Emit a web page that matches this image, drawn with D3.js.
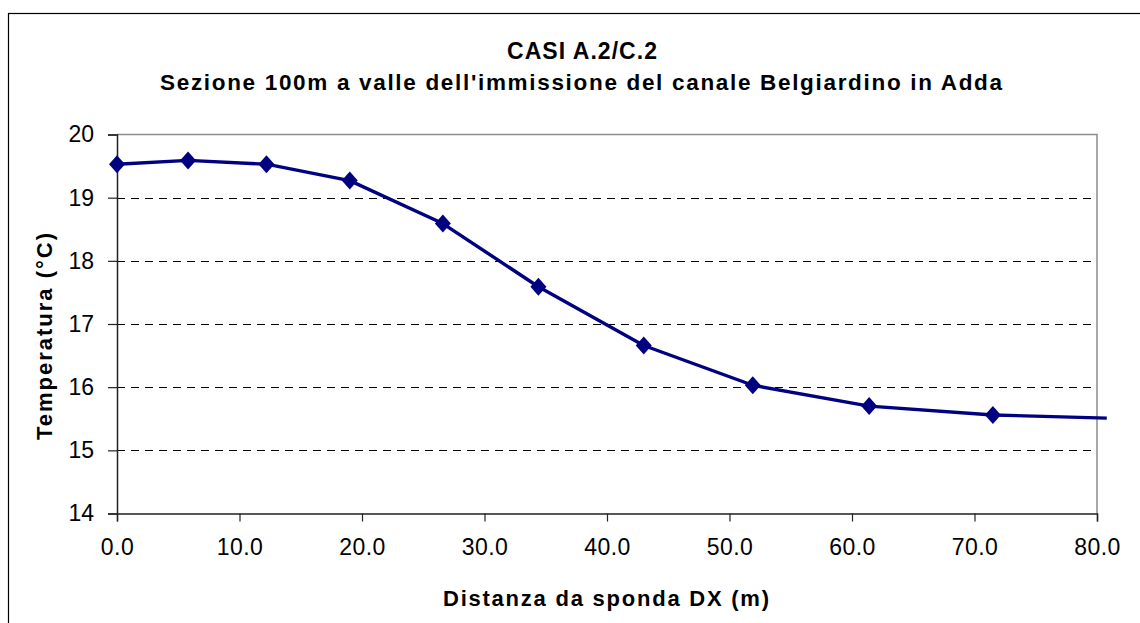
<!DOCTYPE html>
<html>
<head>
<meta charset="utf-8">
<script src="https://cdn.jsdelivr.net/npm/d3@7"></script>
<style>
  body { margin: 0; background: #fff; }
  text { font-family: "Liberation Sans", Arial, sans-serif; fill: #000; }
</style>
</head>
<body>
<div id="chart"></div>
<script>
// temperature profile across the river section
var distances = [0.0, 5.8, 12.2, 19.0, 26.6, 34.4, 43.0, 51.9, 61.4, 71.5, 80.8];
var temperatures = [19.53, 19.59, 19.53, 19.27, 18.59, 17.59, 16.66, 16.03, 15.70, 15.56, 15.51];
var showMarker = [true, true, true, true, true, true, true, true, true, true, false];
var xTicks = [0, 10, 20, 30, 40, 50, 60, 70, 80];
var yTicks = [14, 15, 16, 17, 18, 19, 20];
var titleLines = ["CASI A.2/C.2", "Sezione 100m a valle dell'immissione del canale Belgiardino in Adda"];
var xTitle = "Distanza da sponda DX (m)";
var yTitle = "Temperatura (°C)";

var svgWidth = 1140;
var svgHeight = 623;
var plot = {left: 117, right: 1097, top: 134.5, bottom: 513.5};

var svg = d3.select("#chart")
  .append("svg")
  .attr("width", svgWidth)
  .attr("height", svgHeight);

// outer chart frame (runs off the right and bottom edge)
svg.append("rect")
  .attr("x", 8.5)
  .attr("y", 13.5)
  .attr("width", 1200)
  .attr("height", 700)
  .attr("fill", "#fff")
  .attr("stroke", "#000")
  .attr("stroke-width", 1.2);

// scales
var x = d3.scaleLinear().domain([0, 80]).range([plot.left, plot.right]);
var y = d3.scaleLinear().domain([14, 20]).range([plot.bottom, plot.top]);

// gridlines
svg.append("g")
  .selectAll("line")
  .data(yTicks.filter(d => d > 14 && d < 20))
  .enter()
  .append("line")
  .attr("x1", plot.left)
  .attr("x2", plot.right)
  .attr("y1", d => Math.round(y(d)) + 0.5)
  .attr("y2", d => Math.round(y(d)) + 0.5)
  .attr("stroke", "#000")
  .attr("stroke-width", 1)
  .attr("stroke-dasharray", "8,6");

// plot frame top / right
svg.append("path")
  .attr("d", `M${plot.left},${plot.top}H${plot.right}V${plot.bottom}`)
  .attr("fill", "none")
  .attr("stroke", "#8c8c8c")
  .attr("stroke-width", 1.5);

// axes
var bottomAxis = d3.axisBottom(x)
  .tickValues(xTicks)
  .tickSize(8)
  .tickPadding(17)
  .tickFormat(d3.format(".1f"));
var leftAxis = d3.axisLeft(y)
  .tickValues(yTicks)
  .tickSize(9)
  .tickPadding(14)
  .tickFormat(d3.format("d"));

var gx = svg.append("g")
  .attr("transform", `translate(0, ${plot.bottom})`)
  .call(bottomAxis);
var gy = svg.append("g")
  .attr("transform", `translate(${plot.left}, 0)`)
  .call(leftAxis);

[gx, gy].forEach(function(g) {
  g.select(".domain").attr("stroke", "#222").attr("stroke-width", 1.5);
  g.selectAll(".tick line").attr("stroke", "#222").attr("stroke-width", 1.2);
  g.selectAll(".tick text")
    .attr("font-family", "'Liberation Sans', Arial, sans-serif")
    .attr("font-size", "23px")
    .attr("fill", "#000");
});
gx.selectAll(".tick text").attr("letter-spacing", "0.5px");

// line + markers
var line = d3.line()
  .x((d, i) => x(distances[i]))
  .y(d => y(d));

svg.append("path")
  .datum(temperatures)
  .attr("d", line)
  .attr("fill", "none")
  .attr("stroke", "#000080")
  .attr("stroke-width", 3.4)
  .attr("stroke-linejoin", "round");

var diamond = "M0,-9L8,0L0,9L-8,0Z";
svg.append("g")
  .selectAll("path")
  .data(temperatures.filter((d, i) => showMarker[i]))
  .enter()
  .append("path")
  .attr("d", diamond)
  .attr("transform", (d, i) => `translate(${x(distances[i])}, ${y(d)})`)
  .attr("fill", "#000080");

// titles
svg.append("text")
  .attr("x", 582)
  .attr("y", 59)
  .attr("text-anchor", "middle")
  .attr("font-size", "23px")
  .attr("font-weight", "bold")
  .attr("textLength", 150)
  .attr("lengthAdjust", "spacing")
  .text(titleLines[0]);
svg.append("text")
  .attr("x", 581)
  .attr("y", 90)
  .attr("text-anchor", "middle")
  .attr("font-size", "22.5px")
  .attr("font-weight", "bold")
  .attr("textLength", 842)
  .attr("lengthAdjust", "spacing")
  .text(titleLines[1]);

// axis labels
svg.append("text")
  .attr("x", 606)
  .attr("y", 606)
  .attr("text-anchor", "middle")
  .attr("font-size", "22px")
  .attr("font-weight", "bold")
  .attr("textLength", 326)
  .attr("lengthAdjust", "spacing")
  .text(xTitle);
svg.append("text")
  .attr("transform", "translate(52, 336.5) rotate(-90)")
  .attr("text-anchor", "middle")
  .attr("font-size", "22px")
  .attr("font-weight", "bold")
  .attr("textLength", 207)
  .attr("lengthAdjust", "spacing")
  .text(yTitle);
</script>
</body>
</html>
